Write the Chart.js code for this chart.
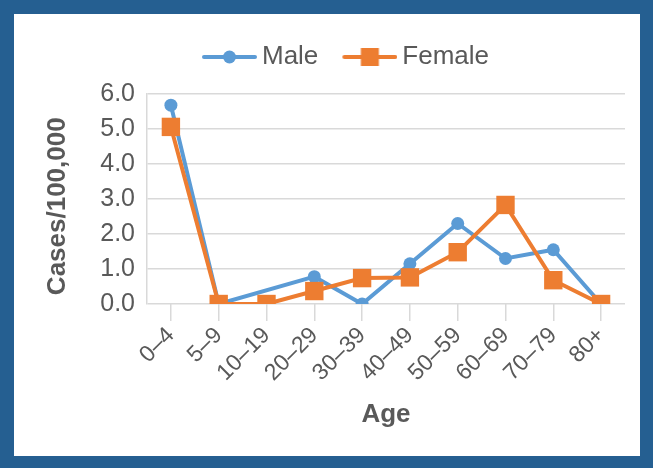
<!DOCTYPE html>
<html>
<head>
<meta charset="utf-8">
<script src="https://cdn.jsdelivr.net/npm/chart.js@4"></script>
<style>
  html, body { margin: 0; padding: 0; }
  body { width: 653px; height: 468px; background: #255f91; position: relative; overflow: hidden; }
  #box { position: absolute; left: 14px; top: 14px; width: 626px; height: 442px; background: #fff; }
</style>
</head>
<body>
<div id="box"><canvas id="chart" width="626" height="442"></canvas></div>
<script>
const ages = ["0–4", "5–9", "10–19", "20–29", "30–39", "40–49", "50–59", "60–69", "70–79", "80+"];
const male = [5.68, 0, null, 0.78, 0, 1.15, 2.3, 1.3, 1.55, 0];
const female = [5.06, 0, 0, 0.37, 0.74, 0.76, 1.48, 2.83, 0.68, 0];
const yTicks = [0, 1, 2, 3, 4, 5, 6];

const BLUE = "#5b9bd5";
const ORANGE = "#ed7d31";
const TEXT = "#595959";
const GRID = "#d9d9d9";
const FONT = "'Liberation Sans', Arial, sans-serif";

// legend swatch: a short line with the marker in the middle
// (image is wider than the legend box so the line sits close to the text)
function swatch(color, square) {
  const c = document.createElement("canvas");
  c.width = 71;
  c.height = 20;
  const g = c.getContext("2d");
  g.strokeStyle = color;
  g.lineWidth = 4;
  g.lineCap = "round";
  g.beginPath();
  g.moveTo(18, 10);
  g.lineTo(69, 10);
  g.stroke();
  g.fillStyle = color;
  if (square) {
    g.fillRect(34.5, 1, 18, 18);
  } else {
    g.beginPath();
    g.arc(43.5, 10, 6.5, 0, Math.PI * 2);
    g.fill();
  }
  return c;
}

const maleIcon = swatch(BLUE, false);
const femaleIcon = swatch(ORANGE, true);

// nudge legend to where the original had it
const legendShift = {
  id: "legendShift",
  afterLayout(chart) {
    const lg = chart.legend;
    lg.left += 22; lg.right += 22;
    lg.top -= 14; lg.bottom -= 14;
  }
};

new Chart(document.getElementById("chart"), {
  type: "line",
  data: {
    labels: ages,
    datasets: [
      {
        label: "Male",
        data: male,
        borderColor: BLUE,
        backgroundColor: BLUE,
        borderWidth: 4,
        pointStyle: "circle",
        pointRadius: 6.5,
        pointBorderWidth: 0,
        pointHoverRadius: 6.5,
        spanGaps: true,
        order: 2
      },
      {
        label: "Female",
        data: female,
        borderColor: ORANGE,
        backgroundColor: ORANGE,
        borderWidth: 4,
        pointStyle: "rect",
        pointRadius: 13,
        pointBorderWidth: 0,
        pointHoverRadius: 13,
        order: 1
      }
    ]
  },
  plugins: [legendShift],
  options: {
    responsive: false,
    animation: false,
    layout: { padding: { left: 0, right: 15, top: 28, bottom: 0 } },
    plugins: {
      tooltip: { enabled: false },
      legend: {
        position: "top",
        labels: {
          usePointStyle: true,
          pointStyleWidth: 55,
          padding: 16,
          color: TEXT,
          font: { family: FONT, size: 26 },
          generateLabels: (chart) => chart.data.datasets.map((ds, i) => ({
            text: ds.label,
            pointStyle: i === 0 ? maleIcon : femaleIcon,
            fillStyle: ds.borderColor,
            strokeStyle: ds.borderColor,
            lineWidth: 0,
            fontColor: TEXT,
            datasetIndex: i
          }))
        }
      }
    },
    scales: {
      x: {
        offset: true,
        afterFit: (s) => { s.height = 152; },
        grid: { drawOnChartArea: false, offset: false, tickLength: 17, color: GRID, lineWidth: 1.5 },
        border: { display: false },
        ticks: {
          autoSkip: false,
          minRotation: 45,
          maxRotation: 45,
          padding: 1,
          color: TEXT,
          font: { family: FONT, size: 23 }
        },
        title: {
          display: true,
          text: "Age",
          color: TEXT,
          padding: { top: 0, bottom: 26 },
          font: { family: FONT, size: 26, weight: "bold" }
        }
      },
      y: {
        min: 0,
        max: 6,
        afterFit: (s) => { s.width = 133; },
        afterBuildTicks: (s) => { s.ticks = yTicks.map((v) => ({ value: v })); },
        grid: { drawTicks: false, color: GRID, lineWidth: 1.5 },
        border: { display: true, color: GRID, width: 1.5 },
        ticks: {
          padding: 12,
          color: TEXT,
          font: { family: FONT, size: 25 },
          callback: (v) => v.toFixed(1)
        },
        title: {
          display: true,
          // trailing spaces push the title a little below the axis centre, as in the original
          text: "Cases/100,000  ",
          color: TEXT,
          padding: { top: 28, bottom: 0 },
          font: { family: FONT, size: 26, weight: "bold" }
        }
      }
    }
  }
});
</script>
</body>
</html>
